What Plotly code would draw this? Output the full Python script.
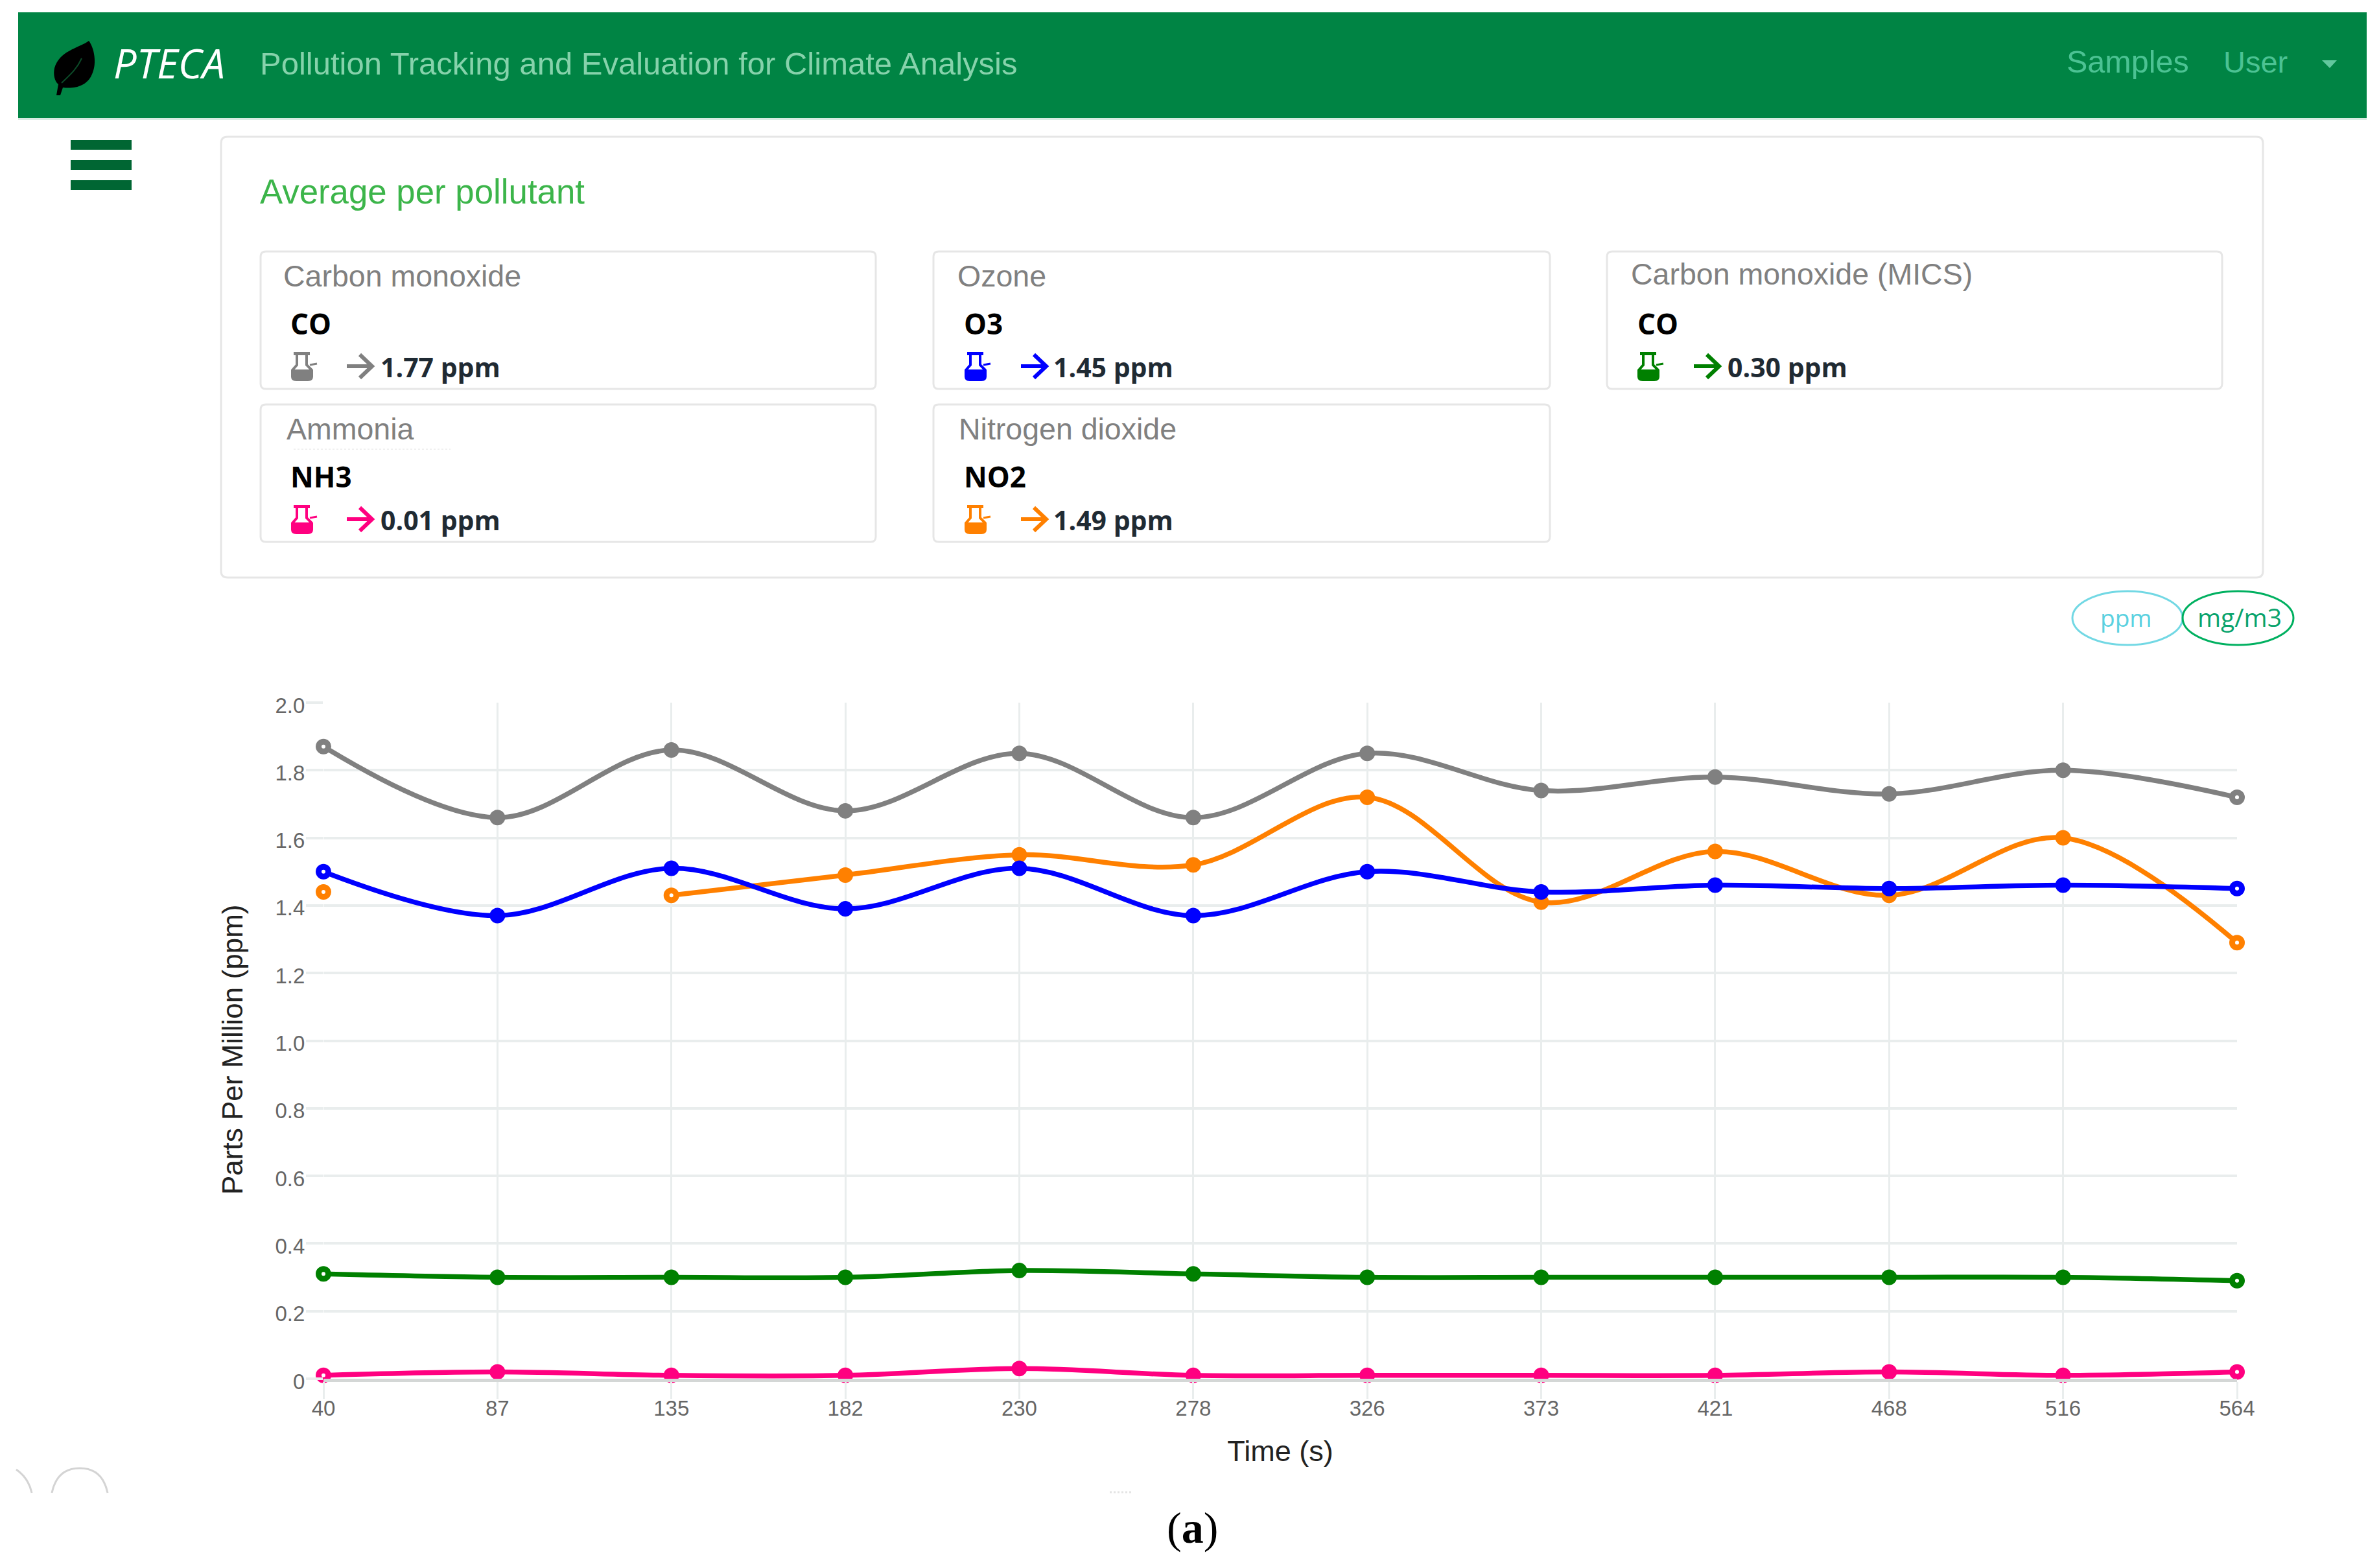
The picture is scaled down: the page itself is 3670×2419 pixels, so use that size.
import plotly.graph_objects as go

W = 3670
H = 2419

times = [40, 87, 135, 182, 230, 278, 326, 373, 421, 468, 516, 564]
co = [1.87, 1.66, 1.86, 1.68, 1.85, 1.66, 1.85, 1.74, 1.78, 1.73, 1.80, 1.72]
o3 = [1.50, 1.37, 1.51, 1.39, 1.51, 1.37, 1.50, 1.44, 1.46, 1.45, 1.46, 1.45]
no2 = [1.44, None, 1.43, 1.49, 1.55, 1.52, 1.72, 1.41, 1.56, 1.43, 1.60, 1.29]
co_mics = [0.31, 0.30, 0.30, 0.30, 0.32, 0.31, 0.30, 0.30, 0.30, 0.30, 0.30, 0.29]
nh3 = [0.01, 0.02, 0.01, 0.01, 0.03, 0.01, 0.01, 0.01, 0.01, 0.02, 0.01, 0.02]

y_ticks = [0, 0.2, 0.4, 0.6, 0.8, 1.0, 1.2, 1.4, 1.6, 1.8, 2.0]
y_labels = ["0", "0.2", "0.4", "0.6", "0.8", "1.0", "1.2", "1.4", "1.6", "1.8", "2.0"]

card_names = ["Carbon monoxide", "Ozone", "Carbon monoxide (MICS)", "Ammonia", "Nitrogen dioxide"]
card_formulas = ["CO", "O3", "CO", "NH3", "NO2"]
card_averages = [1.77, 1.45, 0.30, 0.01, 1.49]

GRAY = "#808080"
BLUE = "#0000ff"
ORANGE = "#ff8000"
GREEN = "#008000"
PINK = "#ff0080"
card_colors = [GRAY, BLUE, GREEN, PINK, ORANGE]

SANS = "Liberation Sans"
OPEN = "Open Sans"
BORDER = "#e6e6e6"
GRID = "#e9eded"


def px(x):
    return x / W


def py(y):
    return 1 - y / H


def pts(*points):
    out = []
    for p in points:
        if isinstance(p, str):
            out.append(p)
        else:
            out.append(f"{px(p[0]):.5f},{py(p[1]):.5f}")
    return " ".join(out)


shapes = []
annotations = []


def rect(x0, y0, x1, y1, fill=None, line=None, width=0):
    shapes.append(dict(type="rect", xref="paper", yref="paper",
                       x0=px(x0), x1=px(x1), y0=py(y0), y1=py(y1),
                       fillcolor=fill or "rgba(0,0,0,0)",
                       line=dict(color=line or "rgba(0,0,0,0)", width=width)))


def path(d, fill=None, line=None, width=0, dash=None):
    ln = dict(color=line or "rgba(0,0,0,0)", width=width)
    if dash:
        ln["dash"] = dash
    shapes.append(dict(type="path", xref="paper", yref="paper", path=d,
                       fillcolor=fill or "rgba(0,0,0,0)", line=ln))


def round_box(x0, y0, x1, y1, r, color, width):
    d = pts("M", (x0 + r, y0), "L", (x1 - r, y0), "Q", (x1, y0), (x1, y0 + r),
            "L", (x1, y1 - r), "Q", (x1, y1), (x1 - r, y1),
            "L", (x0 + r, y1), "Q", (x0, y1), (x0, y1 - r),
            "L", (x0, y0 + r), "Q", (x0, y0), (x0 + r, y0), "Z")
    path(d, line=color, width=width)


def label(x, base, text, size, color, family=SANS, anchor="left", weight=None, style=None):
    # y is given as the text baseline, the box is centred a bit above it
    shift = 0.39 if family == OPEN else 0.35
    font = dict(family=family, size=size, color=color)
    if weight:
        font["weight"] = weight
    if style:
        font["style"] = style
    annotations.append(dict(x=px(x), y=py(base - shift * size), xref="paper", yref="paper",
                            text=text, showarrow=False, xanchor=anchor, yanchor="middle",
                            font=font, borderpad=0))


def flask(x, y, color):
    rect(x + 5, y, x + 30, y + 5, fill=color)
    path(pts("M", (x + 10, y + 5), "L", (x + 10, y + 20), "L", (x + 3, y + 28)), line=color, width=4)
    path(pts("M", (x + 25, y + 5), "L", (x + 25, y + 20), "L", (x + 33, y + 28)), line=color, width=4)
    path(pts("M", (x + 1, y + 27), "L", (x + 35, y + 27), "L", (x + 35, y + 38),
             "Q", (x + 35, y + 45), (x + 27, y + 45), "L", (x + 9, y + 45),
             "Q", (x + 1, y + 45), (x + 1, y + 38), "Z"), fill=color)
    path(pts("M", (x + 30, y + 20), "L", (x + 41, y + 18)), line=color, width=3)


def arrow(x, y, color):
    path(pts("M", (x, y), "L", (x + 38, y), "M", (x + 20, y - 18), "L", (x + 39, y), "L", (x + 20, y + 18)),
         line=color, width=6)


# top bar
rect(28, 19, 3651, 182, fill="#008444")
rect(28, 182, 3651, 185, fill="#d8ebe2")
path(pts("M", (137, 63), "C", (120, 75), (92, 78), (84, 105), "C", (82, 115), (84, 125), (90, 130),
         "L", (87, 147), "L", (93, 147), "L", (97, 135), "C", (112, 137), (135, 135), (143, 112),
         "C", (149, 98), (146, 75), (137, 63), "Z"), fill="#000000")
path(pts("M", (95, 128), "C", (105, 118), (118, 108), (126, 90)), line="#0c4a28", width=2)
label(174, 121, "PTECA", 63, "#ffffff", family=OPEN, style="italic")
label(400, 115, "Pollution Tracking and Evaluation for Climate Analysis", 49, "#86d2ab")
label(3187, 112, "Samples", 48.5, "#4cc293")
label(3429, 112, "User", 47, "#4cc293")
path(pts("M", (3582, 93), "L", (3605, 93), "L", (3594, 105), "Z"), fill="#62c89e")

# menu icon
for top in [216, 247, 278]:
    rect(109, top, 203, top + 15, fill="#006633")

# average panel
round_box(341, 211, 3491, 891, 10, BORDER, 3)
label(400, 314, "Average per pollutant", 52.8, "#3cb54a")

card_x = [(402, 1351), (1440, 2391), (2479, 3428), (402, 1351), (1440, 2391)]
card_y = [(388, 600), (388, 600), (388, 600), (624, 836), (624, 836)]
name_x = [436, 1476, 2515, 441, 1478]
name_y = [442, 442, 439, 678, 678]
formula_x = [447, 1486, 2525, 447, 1486]
flask_x = [448, 1487, 2525, 448, 1487]
arrow_x = [535, 1575, 2613, 535, 1575]
value_x = [586, 1624, 2664, 586, 1624]

for i in range(5):
    shift = card_y[i][0] - 388
    round_box(card_x[i][0], card_y[i][0], card_x[i][1], card_y[i][1], 8, BORDER, 3)
    label(name_x[i], name_y[i], card_names[i], 46.5, GRAY)
    label(formula_x[i], 516 + shift, card_formulas[i], 44, "#000000", family=OPEN, weight=700)
    flask(flask_x[i], 543 + shift, card_colors[i])
    arrow(arrow_x[i], 565 + shift, card_colors[i])
    label(value_x[i], 582 + shift, f"{card_averages[i]:.2f} ppm", 41, "#1f2a33", family=OPEN, weight=700)

# leftovers from the screenshot
path(pts("M", (453, 693), "L", (695, 693)), line="#f0f0f0", width=2, dash="dot")
path(pts("M", (25, 2267), "Q", (44, 2280), (49, 2303)), line="#d4d4d4", width=3)
path(pts("M", (80, 2303), "Q", (88, 2265), (123, 2265), "Q", (158, 2265), (166, 2303)), line="#d4d4d4", width=3)
path(pts("M", (1712, 2302), "L", (1745, 2302)), line="#e4e4e4", width=3, dash="dot")

# unit buttons
shapes.append(dict(type="circle", xref="paper", yref="paper", x0=px(3197), x1=px(3367), y0=py(912), y1=py(995),
                   line=dict(color="#72d8e4", width=3), fillcolor="rgba(0,0,0,0)"))
shapes.append(dict(type="circle", xref="paper", yref="paper", x0=px(3367), x1=px(3538), y0=py(912), y1=py(995),
                   line=dict(color="#00b060", width=3), fillcolor="rgba(0,0,0,0)"))
label(3280, 967, "ppm", 37, "#5ad1e0", family=OPEN, anchor="center")
label(3455, 967, "mg/m3", 39, "#08a36c", family=OPEN, anchor="center")

# caption
label(1840, 2381, "(<b>a</b>)", 68, "#000000", family="Liberation Serif", anchor="center")

# y title sits a little below the middle of the axis, so it is placed by hand
annotations.append(dict(x=px(358), y=py(1620), xref="paper", yref="paper", text="Parts Per Million (ppm)",
                        textangle=-90, showarrow=False, xanchor="center", yanchor="middle",
                        font=dict(family=SANS, size=44, color="#222222")))

fig = go.Figure()

x_cat = [str(t) for t in times]
series = [
    ("CO", co, GRAY),
    ("NH3", nh3, PINK),
    ("NO2", no2, ORANGE),
    ("O3", o3, BLUE),
    ("CO (MICS)", co_mics, GREEN),
]

for name, values, color in series:
    # chart draws the first point of a line and the last one hollow
    fills = [color] * len(values)
    fills[0] = "#ffffff"
    fills[-1] = "#ffffff"
    if name == "NO2":
        fills[2] = "#ffffff"
    fig.add_trace(
        go.Scatter(
            x=x_cat,
            y=values,
            name=name,
            mode="lines+markers",
            line=dict(color=color, width=7.5, shape="spline", smoothing=1.0),
            marker=dict(size=15, color=fills, line=dict(color=color, width=9)),
            connectgaps=False,
            cliponaxis=False,
        )
    )

fig.update_layout(
    width=W,
    height=H,
    margin=dict(l=0, r=0, t=0, b=0),
    paper_bgcolor="#ffffff",
    plot_bgcolor="#ffffff",
    showlegend=False,
    shapes=shapes,
    annotations=annotations,
    xaxis=dict(
        domain=[px(499), px(3451)],
        type="category",
        categoryorder="array",
        categoryarray=x_cat,
        range=[0, 11],
        showgrid=True,
        gridcolor=GRID,
        gridwidth=3,
        zeroline=False,
        showline=True,
        linecolor="#d4d7d6",
        linewidth=5,
        ticks="outside",
        ticklen=26,
        tickwidth=3,
        tickcolor=GRID,
        ticklabelstandoff=-14,
        tickfont=dict(family=SANS, size=33, color="#666666"),
        title=dict(text="Time (s)", font=dict(family=SANS, size=45, color="#222222"), standoff=34),
        automargin=False,
    ),
    yaxis=dict(
        domain=[py(2127), py(1084)],
        range=[0, 2],
        tickvals=y_ticks,
        ticktext=y_labels,
        showgrid=True,
        gridcolor=GRID,
        gridwidth=4,
        zeroline=False,
        showline=False,
        ticks="outside",
        ticklen=26,
        tickwidth=4,
        tickcolor=GRID,
        ticklabelstandoff=-5,
        ticklabelshift=4,
        tickfont=dict(family=SANS, size=33, color="#666666"),
        automargin=False,
    ),
)

fig.write_html("out.html", config={"displayModeBar": False}, post_script="document.body.style.margin='0';")
